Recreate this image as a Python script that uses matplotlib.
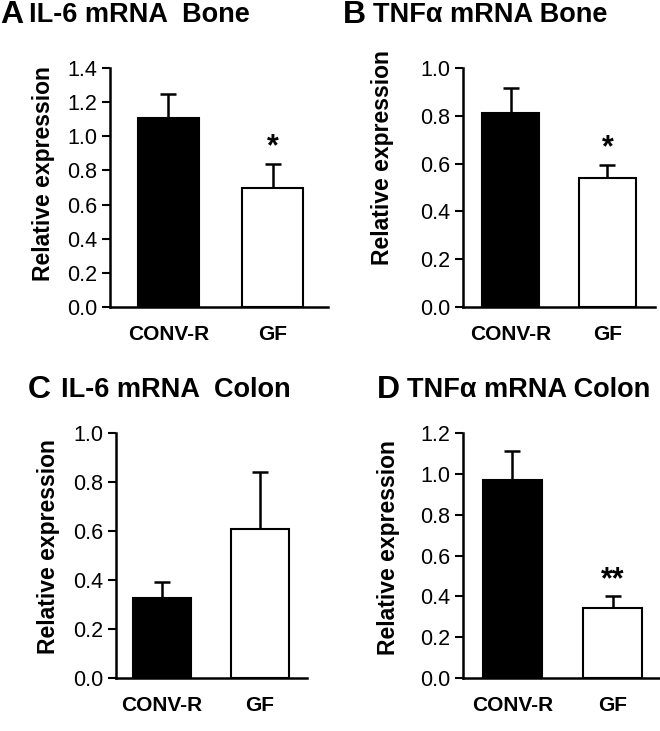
import matplotlib
matplotlib.use("Agg")
import matplotlib.pyplot as plt

plt.rcParams['font.family'] = ['Liberation Sans', 'DejaVu Sans']

groups = ["CONV-R", "GF"]

il6_bone = [1.11, 0.70]
il6_bone_err = [0.135, 0.14]
tnf_bone = [0.81, 0.54]
tnf_bone_err = [0.105, 0.055]
il6_colon = [0.325, 0.61]
il6_colon_err = [0.065, 0.23]
tnf_colon = [0.97, 0.345]
tnf_colon_err = [0.14, 0.055]

panels = [
    dict(letter="A", title="IL-6 mRNA  Bone", vals=il6_bone, err=il6_bone_err,
         ymax=1.4, ticks=[0.0, 0.2, 0.4, 0.6, 0.8, 1.0, 1.2, 1.4], sig="*",
         pos=[110, 68, 328, 307], xlim=(-0.56, 1.53), lx=0, tx=29, ty=15,
         lab=(-0.307, 0.559)),
    dict(letter="B", title="TNFα mRNA Bone", vals=tnf_bone, err=tnf_bone_err,
         ymax=1.0, ticks=[0.0, 0.2, 0.4, 0.6, 0.8, 1.0], sig="*",
         pos=[463, 68, 655, 307], xlim=(-0.49, 1.49), lx=343, tx=373, ty=15,
         lab=(-0.417, 0.626)),
    dict(letter="C", title="IL-6 mRNA  Colon", vals=il6_colon, err=il6_colon_err,
         ymax=1.0, ticks=[0.0, 0.2, 0.4, 0.6, 0.8, 1.0], sig="",
         pos=[116, 433, 307, 678], xlim=(-0.47, 1.48), lx=28, tx=61, ty=390,
         lab=(-0.351, 0.535)),
    dict(letter="D", title="TNFα mRNA Colon", vals=tnf_colon, err=tnf_colon_err,
         ymax=1.2, ticks=[0.0, 0.2, 0.4, 0.6, 0.8, 1.0, 1.2], sig="**",
         pos=[463, 433, 660, 678], xlim=(-0.49, 1.47), lx=377, tx=407, ty=390,
         lab=(-0.376, 0.531)),
]

W, H = 660, 731
fig = plt.figure(figsize=(W / 100, H / 100), dpi=100)

for p in panels:
    x0, y0, x1, y1 = p["pos"]
    ax = fig.add_axes([x0 / W, 1 - y1 / H, (x1 - x0) / W, (y1 - y0) / H])
    xs = [0, 1]
    ax.bar(xs, p["vals"], width=0.59, color=["black", "white"],
           edgecolor="black", linewidth=1.5, zorder=2)
    ax.errorbar(xs, p["vals"], yerr=[[0, 0], p["err"]], fmt="none",
                ecolor="black", elinewidth=1.8, capsize=6, capthick=1.8, zorder=1)
    if p["sig"]:
        top = p["vals"][1] + p["err"][1]
        ax.annotate(p["sig"], xy=(1, top), xytext=(0, 1), textcoords="offset points",
                    ha="center", va="bottom", fontsize=22, fontweight="bold")
    ax.set_ylim(0, p["ymax"])
    ax.set_xlim(*p["xlim"])
    ax.set_yticks(p["ticks"])
    ax.set_yticklabels([f"{t:.1f}" for t in p["ticks"]], fontsize=15.5)
    ax.set_xticks(xs)
    ax.set_xticklabels(groups, fontsize=15, fontweight="bold")
    ax.tick_params(axis="x", length=0, pad=13)
    ax.tick_params(axis="y", length=6, width=1.5, direction="out", pad=3)
    for s in ["top", "right"]:
        ax.spines[s].set_visible(False)
    for s in ["left", "bottom"]:
        ax.spines[s].set_linewidth(1.8)
    ax.set_ylabel("Relative expression", fontsize=16.5, fontweight="bold",
                  va="center")
    ax.yaxis.set_label_coords(*p["lab"])
    fig.text(p["lx"] / W, 1 - p["ty"] / H, p["letter"], fontsize=23, fontweight="bold",
             ha="left", va="center")
    fig.text(p["tx"] / W, 1 - p["ty"] / H, p["title"], fontsize=19.5, fontweight="bold",
             ha="left", va="center")

fig.savefig("out.png", dpi=100)
